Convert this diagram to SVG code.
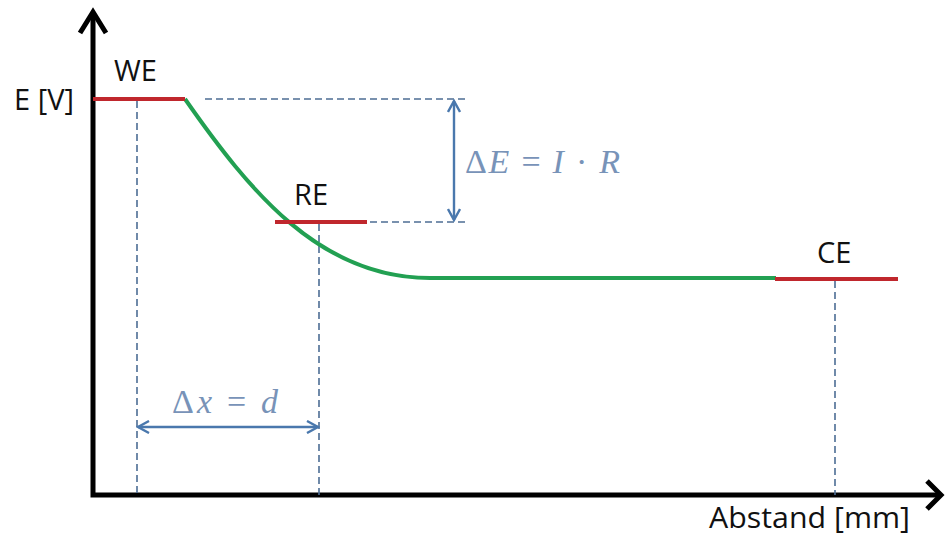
<svg xmlns="http://www.w3.org/2000/svg" width="946" height="540" viewBox="0 0 946 540">
<defs>
<style>
.lbl{font-family:"Open Sans","Liberation Sans",sans-serif;font-size:29px;fill:#111}
.math{font-family:"Liberation Serif","DejaVu Serif",serif;font-size:34px;fill:#7893b8}
.it{font-style:italic}
.dash{stroke:#4d6d94;stroke-width:1.6;stroke-dasharray:7,4;fill:none}
.el{stroke:#c0272d;stroke-width:4;fill:none}
.dim{stroke:#4a78ad;stroke-width:2.4;fill:none}
.ax{stroke:#000;stroke-width:5;fill:none}
</style>
<marker id="ah" viewBox="0 0 14 14" refX="12" refY="7" markerWidth="14" markerHeight="14" markerUnits="userSpaceOnUse" orient="auto-start-reverse">
<path d="M1,1 L12,7 L1,13" fill="none" stroke="#4a78ad" stroke-width="2.4"/>
</marker>
</defs>
<rect width="946" height="540" fill="#fff"/>
<g id="axes">
<path class="ax" d="M93,12 L93,495 L940,495"/>
<path class="ax" d="M80,33 L93,12 L106,33"/>
<path class="ax" d="M927,481 L941,495 L927,509"/>
<text class="lbl" x="14" y="110">E [V]</text>
<text class="lbl" x="709" y="528" textLength="201" lengthAdjust="spacingAndGlyphs">Abstand [mm]</text>
</g>
<g id="connectors">
<path class="dash" d="M137,101 V495"/>
<path class="dash" d="M205,99 H466"/>
<path class="dash" d="M370,222 H466"/>
<path class="dash" d="M319,224 V495"/>
<path class="dash" d="M835,281 V495"/>
<path d="M185,99 C250,192 320,278 430,278 L776,278" fill="none" stroke="#22a052" stroke-width="4"/>
<path class="dim" d="M454,101 V220" marker-start="url(#ah)" marker-end="url(#ah)"/>
<path class="dim" d="M138,427 H318" marker-start="url(#ah)" marker-end="url(#ah)"/>
</g>
<g id="WE">
<path class="el" d="M93,99 H185"/>
<text class="lbl" x="114" y="81">WE</text>
</g>
<g id="RE">
<path class="el" d="M275,222 H367"/>
<text class="lbl" x="294" y="205">RE</text>
</g>
<g id="CE">
<path class="el" d="M775,279 H898"/>
<text class="lbl" x="817" y="263">CE</text>
</g>
<g id="labels">
<text class="math" x="465" y="173" textLength="155" lengthAdjust="spacing">Δ<tspan class="it">E</tspan> = <tspan class="it">I</tspan> · <tspan class="it">R</tspan></text>
<text class="math" x="172" y="413" textLength="106" lengthAdjust="spacing">Δ<tspan class="it">x</tspan> = <tspan class="it">d</tspan></text>
</g>
</svg>
